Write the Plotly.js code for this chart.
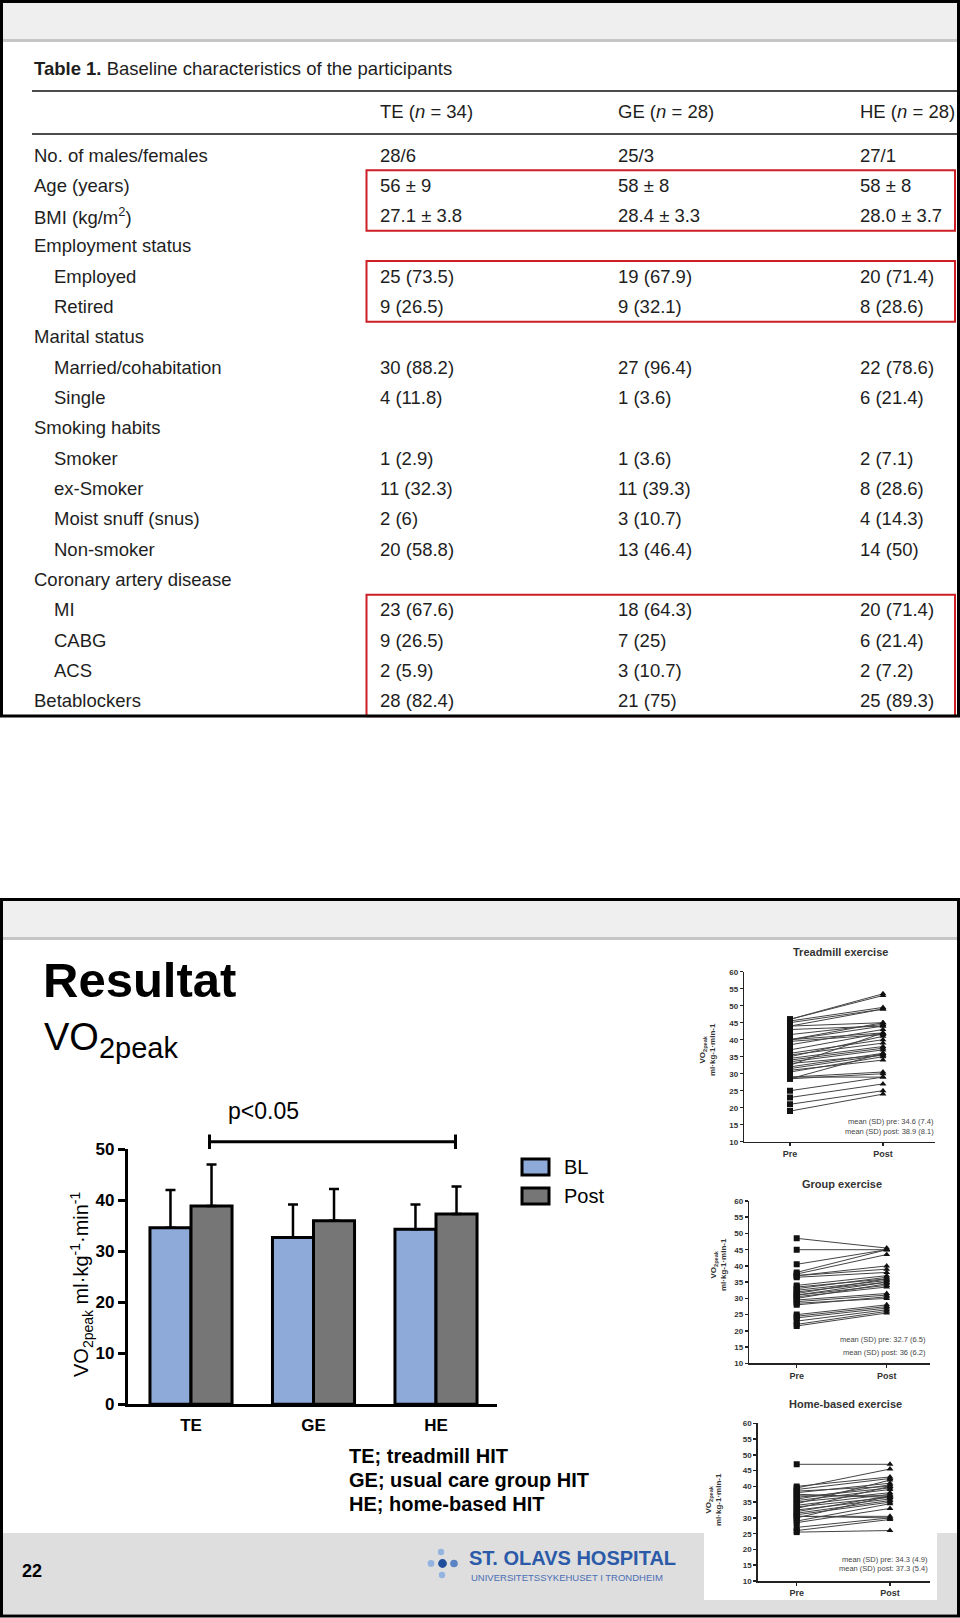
<!DOCTYPE html>
<html><head><meta charset="utf-8">
<script src="https://cdn.plot.ly/plotly-3.0.1.min.js"></script>
<style>html,body{margin:0;padding:0;background:#fff;}#chart{width:960px;height:1618px;}</style>
</head><body><div id="chart"></div>
<script>
// ================= DATA =================
const tableTitle = '<b>Table 1.</b> Baseline characteristics of the participants';
const tableColumns = ['TE (<i>n</i> = 34)', 'GE (<i>n</i> = 28)', 'HE (<i>n</i> = 28)'];
const rowLabels = ['No. of males/females', 'Age (years)', 'BMI (kg/m<sup>2</sup>)', 'Employment status',
  'Employed', 'Retired', 'Marital status', 'Married/cohabitation', 'Single', 'Smoking habits',
  'Smoker', 'ex-Smoker', 'Moist snuff (snus)', 'Non-smoker', 'Coronary artery disease',
  'MI', 'CABG', 'ACS', 'Betablockers'];
const rowLevel = [0,0,0,0,1,1,0,1,1,0,1,1,1,1,0,1,1,1,0];
const colTE = ['28/6','56 ± 9','27.1 ± 3.8','','25 (73.5)','9 (26.5)','','30 (88.2)','4 (11.8)','',
  '1 (2.9)','11 (32.3)','2 (6)','20 (58.8)','','23 (67.6)','9 (26.5)','2 (5.9)','28 (82.4)'];
const colGE = ['25/3','58 ± 8','28.4 ± 3.3','','19 (67.9)','9 (32.1)','','27 (96.4)','1 (3.6)','',
  '1 (3.6)','11 (39.3)','3 (10.7)','13 (46.4)','','18 (64.3)','7 (25)','3 (10.7)','21 (75)'];
const colHE = ['27/1','58 ± 8','28.0 ± 3.7','','20 (71.4)','8 (28.6)','','22 (78.6)','6 (21.4)','',
  '2 (7.1)','8 (28.6)','4 (14.3)','14 (50)','','20 (71.4)','6 (21.4)','2 (7.2)','25 (89.3)'];
const highlightedRows = [[1,2],[4,5],[15,18]];

const groups = ['TE','GE','HE'];
const groupNames = ['TE; treadmill HIT','GE; usual care group HIT','HE; home-based HIT'];
const blMean = [34.6, 32.7, 34.3];
const blSD = [7.4, 6.5, 4.9];
const postMean = [38.9, 36.0, 37.3];
const postSD = [8.1, 6.2, 5.4];
const seriesNames = ['BL','Post'];

const panelTitles = ['Treadmill exercise','Group exercise','Home-based exercise'];
const timeLabels = ['Pre','Post'];
const tePre  = [46,46,45.5,45,44,44,43,41.5,40,40,40,39.5,38.5,37,36,35.5,35,34.5,34,33.5,33,32.5,32,31.5,31,30.5,29,29,28.5,28.5,25,23,21,19];
const tePost = [53.5,53,49.5,49,49,45,44,44.5,45,44,42,41.5,43,42,40,39,41,38,37.5,37,35.5,42,36,35.5,34,35,30.5,29,36,30,29,27,25,24];
const gePre  = [48.5,45,40.5,38,37.5,37,37,36.5,34,33.5,33,32.5,32,31.5,31,31,30.5,30,29.5,29,28.5,28,25,24.5,24,23,22,21.5];
const gePost = [45.5,45,45,45,43.5,40,39,38,37,36,36.5,35.5,35,36,35,34,33.5,34.5,31.5,31,30,30.5,28,27.5,27,26.5,26,25.5];
const hePre  = [47,40,39.5,39,38.5,38,37.5,37,36.5,36,35.5,35,34.5,34,33.5,33,32.5,32,31.5,31,30.5,30.5,30,29,28.5,27,26,25.5];
const hePost = [47,43,45.5,42.5,40,41,36.5,37,39.5,40.5,39,38,42,37.5,36.5,40,36,37,35.5,35,30,30.5,37,34.5,33,30,29.5,26];

const pageNumber = '22';
const slideTitle = 'Resultat';
const slideSubtitle = 'VO<sub>2peak</sub>';

// ================= HELPERS =================
const W = 960, H = 1618;
const px = x => x / W;
const py = y => 1 - y / H;
const shapes = [], anns = [];
function rect(x0, y0, x1, y1, opt) {
  shapes.push(Object.assign({type:'rect', xref:'paper', yref:'paper', x0:px(x0), x1:px(x1), y0:py(y1), y1:py(y0)}, opt));
}
function line(x0, y0, x1, y1, color, width, layer) {
  shapes.push({type:'line', xref:'paper', yref:'paper', x0:px(x0), x1:px(x1), y0:py(y0), y1:py(y1),
    line:{color:color, width:width}, layer: layer || 'above'});
}
function ann(text, x, y, font, opt) {
  anns.push(Object.assign({text:text, x:px(x), y:py(y), xref:'paper', yref:'paper', showarrow:false,
    xanchor:'left', yanchor:'middle', font:font}, opt || {}));
}
const fmt = v => String(+v.toFixed(1));
const SANS = 'Liberation Sans, Arial, sans-serif';

// ================= TOP SLIDE (table) =================
const tFont = {family:SANS, size:18.5, color:'#1e1e1e'};
rect(2, 2, 957, 39, {fillcolor:'#efefef', line:{width:0}, layer:'below'});
line(2, 40.5, 957, 40.5, '#c6c6c6', 3, 'below');
ann(tableTitle, 32, 69, tFont);
line(32, 91, 958, 91, '#111', 1.6);
const colX = [378, 616, 858];
tableColumns.forEach((c, j) => ann(c, colX[j], 111.5, tFont));
line(32, 134, 958, 134, '#111', 1.6);
const ROW0 = 155, STEP = 30.33;
rowLabels.forEach((lab, i) => {
  const y = ROW0 + i * STEP;
  ann(lab, rowLevel[i] ? 51.6 : 32, y, tFont);
  [colTE, colGE, colHE].forEach((col, j) => { if (col[i]) ann(col[i], colX[j], y, tFont); });
});
highlightedRows.forEach(([a, b]) => {
  rect(366.5, ROW0 + a * STEP - 15.2, 955, ROW0 + b * STEP + 15.2, {line:{color:'#cc1f26', width:2}, fillcolor:'rgba(0,0,0,0)', layer:'above'});
});
rect(1.5, 1.5, 958.5, 716, {line:{color:'#000', width:3}, fillcolor:'rgba(0,0,0,0)', layer:'above'});

// ================= BOTTOM SLIDE =================
rect(2, 901, 957, 937, {fillcolor:'#efefef', line:{width:0}, layer:'below'});
line(2, 938.5, 957, 938.5, '#c6c6c6', 3, 'below');
rect(2, 1533, 957, 1614, {fillcolor:'#dedede', line:{width:0}, layer:'below'});
rect(704, 940, 937, 1600, {fillcolor:'#ffffff', line:{width:0}, layer:'below'});
rect(1.5, 899.5, 958.5, 1616, {line:{color:'#000', width:3}, fillcolor:'rgba(0,0,0,0)', layer:'above'});

ann('<b>' + slideTitle + '</b>', 41, 980, {family:SANS, size:49, color:'#000'});
ann('VO<sub><span style="font-size:29px">2peak</span></sub>', 42, 1040, {family:SANS, size:38, color:'#000'});

// p<0.05 bracket
ann('p<0.05', 263.5, 1111, {family:SANS, size:23, color:'#000'}, {xanchor:'center'});
line(209.5, 1141.7, 455.5, 1141.7, '#000', 3);
line(209.5, 1134.5, 209.5, 1149, '#000', 3);
line(455.5, 1134.5, 455.5, 1149, '#000', 3);

// legend (custom)
const serColors = ['#8eaad8', '#767676'];
seriesNames.forEach((s, i) => {
  const yc = 1167 + i * 29;
  rect(522, yc - 8, 549, yc + 8, {fillcolor:serColors[i], line:{color:'#000', width:3}, layer:'above'});
  ann(s, 562, yc, {family:SANS, size:20, color:'#000'});
});

// y-axis title for bar chart
ann('VO<sub>2peak</sub> ml·kg<sup>-1</sup>·min<sup>-1</sup>', 81, 1284,
  {family:SANS, size:20, color:'#000'}, {textangle:-90, xanchor:'center'});

// group legend text
groupNames.forEach((g, i) => ann('<b>' + g + '</b>', 347, 1455.7 + i * 24.2, {family:SANS, size:20, color:'#000'}));

// footer
ann('<b>' + pageNumber + '</b>', 20, 1571, {family:SANS, size:18, color:'#000'});
[[441,1552,3.2,'#93b4df'],[431,1563.5,3.4,'#93b4df'],[442.5,1563.5,4.4,'#1f4e9c'],[454,1563.5,3.8,'#5b84c4'],[442,1575,3.2,'#93b4df']]
  .forEach(([cx, cy, r, c]) => shapes.push({type:'circle', xref:'paper', yref:'paper', x0:px(cx-r), x1:px(cx+r), y0:py(cy+r), y1:py(cy-r), fillcolor:c, line:{width:0}, layer:'above'}));
ann('<b>ST. OLAVS HOSPITAL</b>', 467, 1558, {family:SANS, size:20, color:'#2a5aa8'});
ann('UNIVERSITETSSYKEHUSET I TRONDHEIM', 469, 1577, {family:SANS, size:9.5, color:'#4a6fb5'});

// ================= TRACES =================
const zeros = groups.map(() => 0);
const traces = [];
[[blMean, blSD], [postMean, postSD]].forEach(([m, sd], i) => {
  traces.push({type:'bar', x:groups, y:m, name:seriesNames[i], showlegend:false, xaxis:'x', yaxis:'y',
    marker:{color:serColors[i], line:{color:'#000', width:3}},
    error_y:{type:'data', symmetric:false, array:sd, arrayminus:zeros, color:'#000', thickness:2.5, width:5}});
});

// small spaghetti plots
const panels = [
  {pre:tePre, post:tePost, ax:2, xl:744.3, xr:935, xPre:790, xPost:883, y10:1141.7, y60:971.7, title:[840,952], lab:[707,1050], mean:[936,1121,1131.5]},
  {pre:gePre, post:gePost, ax:3, xl:749.3, xr:930, xPre:796.7, xPost:886.7, y10:1363.3, y60:1201, title:[842,1183.5], lab:[718,1265], mean:[928,1339,1352]},
  {pre:hePre, post:hePost, ax:4, xl:757.7, xr:930, xPre:796.7, xPost:890, y10:1581, y60:1423.3, title:[845,1404], lab:[713,1500], mean:[930,1559,1568]}
];
const layoutAxes = {};
const smallFont = {family:SANS, size:8, color:'#333', weight:'bold'};
panels.forEach((p, k) => {
  const xs = [], ys = [];
  p.pre.forEach((v, i) => { xs.push(0, 1, null); ys.push(v, p.post[i], null); });
  const xa = 'x' + p.ax, ya = 'y' + p.ax;
  traces.push({type:'scatter', mode:'lines', x:xs, y:ys, xaxis:xa, yaxis:ya, showlegend:false,
    line:{color:'#444', width:1}, connectgaps:false, hoverinfo:'skip'});
  traces.push({type:'scatter', mode:'markers', x:p.pre.map(() => 0), y:p.pre, xaxis:xa, yaxis:ya, showlegend:false,
    marker:{symbol:'square', size:6, color:'#111'}});
  traces.push({type:'scatter', mode:'markers', x:p.post.map(() => 1), y:p.post, xaxis:xa, yaxis:ya, showlegend:false,
    marker:{symbol:'triangle-up', size:6, color:'#111'}});
  const unit = p.xPost - p.xPre;
  layoutAxes['xaxis' + p.ax] = {domain:[px(p.xl), px(p.xr)], range:[(p.xl - p.xPre) / unit, (p.xr - p.xPre) / unit],
    anchor:ya, showgrid:false, zeroline:false, showline:true, linecolor:'#222', linewidth:1.5,
    tickvals:[0,1], ticktext:timeLabels, ticks:'outside', ticklen:3, tickwidth:1.5, tickcolor:'#222',
    tickfont:{family:SANS, size:9, color:'#333', weight:'bold'}, fixedrange:true};
  layoutAxes['yaxis' + p.ax] = {domain:[py(p.y10), py(p.y60)], range:[10,60], anchor:xa, showgrid:false, zeroline:false,
    showline:true, linecolor:'#222', linewidth:1.5, dtick:5, tick0:10, ticks:'outside', ticklen:3, tickwidth:1.5, tickcolor:'#222',
    tickfont:smallFont, fixedrange:true};
  ann('<b>' + panelTitles[k] + '</b>', p.title[0], p.title[1], {family:SANS, size:11, color:'#333'}, {xanchor:'center'});
  ann('<b>VO<sub>2peak</sub><br>ml·kg-1·min-1</b>', p.lab[0], p.lab[1], {family:SANS, size:8, color:'#333'}, {textangle:-90, xanchor:'center'});
  ann('mean (SD) pre: ' + fmt(blMean[k]) + ' (' + fmt(blSD[k]) + ')', p.mean[0], p.mean[1], {family:SANS, size:7.5, color:'#444'}, {xanchor:'right'});
  ann('mean (SD) post: ' + fmt(postMean[k]) + ' (' + fmt(postSD[k]) + ')', p.mean[0], p.mean[2], {family:SANS, size:7.5, color:'#444'}, {xanchor:'right'});
});

const bx0 = 127.8, bx1 = 497, c0 = 191, cStep = 122.5;
const layout = Object.assign({
  width:W, height:H, margin:{l:0, r:0, t:0, b:0},
  paper_bgcolor:'#ffffff', plot_bgcolor:'rgba(0,0,0,0)',
  barmode:'group', bargap:0.33, bargroupgap:0, showlegend:false,
  xaxis:{domain:[px(bx0), px(bx1)], range:[(bx0 - c0) / cStep, (bx1 - c0) / cStep], anchor:'y',
    showline:true, linecolor:'#000', linewidth:3, ticks:'', showgrid:false, zeroline:false,
    tickfont:{family:SANS, size:17, color:'#000', weight:'bold'}, ticklabelstandoff:3, fixedrange:true},
  yaxis:{domain:[py(1404.3), py(1149.3)], range:[0,50], anchor:'x', dtick:10, showline:true, linecolor:'#000', linewidth:3,
    ticks:'outside', ticklen:7, tickwidth:3, tickcolor:'#000', showgrid:false, zeroline:false,
    tickfont:{family:SANS, size:17, color:'#000', weight:'bold'}, fixedrange:true},
  shapes:shapes, annotations:anns
}, layoutAxes);

Plotly.newPlot('chart', traces, layout, {displayModeBar:false, staticPlot:true});
</script></body></html>
